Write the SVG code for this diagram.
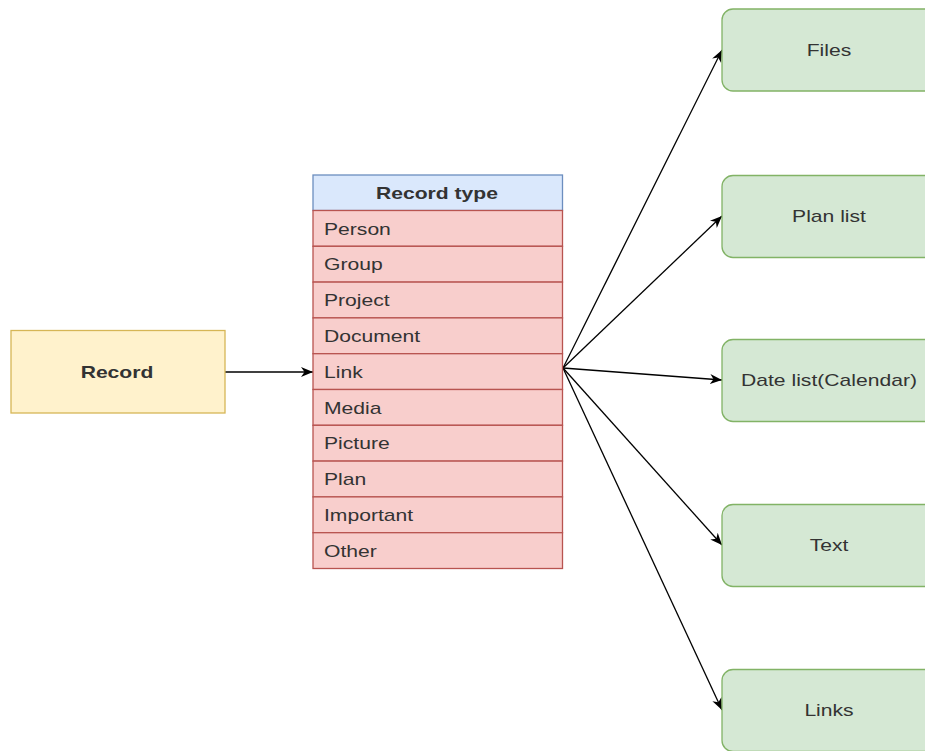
<svg xmlns="http://www.w3.org/2000/svg" width="925" height="751" viewBox="0 0 925 751">
<defs>
<marker id="arr" markerWidth="13" markerHeight="11" refX="12" refY="5.5" orient="auto" markerUnits="userSpaceOnUse">
<path d="M0,0.5 L12,5.5 L0,10.5 L3.5,5.5 Z" fill="#000"/>
</marker>
</defs>
<style>
.t{font-family:"Liberation Sans",Arial,sans-serif;font-size:16px;fill:#333}
.b{font-weight:bold}
.row{fill:#f8cecc;stroke:#b85450;stroke-width:1.3}
.grn{fill:#d5e8d4;stroke:#82b366;stroke-width:1.3}
.con{stroke:#000;stroke-width:1.3;fill:none;marker-end:url(#arr)}
</style>
<rect width="925" height="751" fill="#fff"/>
<g id="connectors">
<line class="con" x1="225" y1="372" x2="313" y2="372"/>
<line class="con" x1="563" y1="368" x2="722" y2="50"/>
<line class="con" x1="563" y1="368" x2="722" y2="216"/>
<line class="con" x1="563" y1="368" x2="722" y2="380"/>
<line class="con" x1="563" y1="368" x2="722" y2="545"/>
<line class="con" x1="563" y1="368" x2="722" y2="710"/>
</g>
<g id="record">
<rect x="11" y="330.5" width="214" height="82.5" fill="#fff2cc" stroke="#d6b656" stroke-width="1.3"/>
<text class="t b" text-anchor="middle" transform="translate(117,378) scale(1.32,1)">Record</text>
</g>
<g id="record-type">
<rect x="313" y="175" width="249.5" height="35.5" fill="#dae8fc" stroke="#6c8ebf" stroke-width="1.3"/>
<text class="t b" text-anchor="middle" transform="translate(437,199) scale(1.32,1)">Record type</text>
<rect class="row" x="313" y="210.5" width="249.5" height="35.8"/>
<text class="t" transform="translate(324,234.5) scale(1.32,1)">Person</text>
<rect class="row" x="313" y="246.3" width="249.5" height="35.8"/>
<text class="t" transform="translate(324,270.3) scale(1.32,1)">Group</text>
<rect class="row" x="313" y="282.1" width="249.5" height="35.8"/>
<text class="t" transform="translate(324,306.1) scale(1.32,1)">Project</text>
<rect class="row" x="313" y="317.9" width="249.5" height="35.8"/>
<text class="t" transform="translate(324,341.9) scale(1.32,1)">Document</text>
<rect class="row" x="313" y="353.7" width="249.5" height="35.8"/>
<text class="t" transform="translate(324,377.7) scale(1.32,1)">Link</text>
<rect class="row" x="313" y="389.5" width="249.5" height="35.8"/>
<text class="t" transform="translate(324,413.5) scale(1.32,1)">Media</text>
<rect class="row" x="313" y="425.3" width="249.5" height="35.8"/>
<text class="t" transform="translate(324,449.3) scale(1.32,1)">Picture</text>
<rect class="row" x="313" y="461.1" width="249.5" height="35.8"/>
<text class="t" transform="translate(324,485.1) scale(1.32,1)">Plan</text>
<rect class="row" x="313" y="496.9" width="249.5" height="35.8"/>
<text class="t" transform="translate(324,520.9) scale(1.32,1)">Important</text>
<rect class="row" x="313" y="532.7" width="249.5" height="35.8"/>
<text class="t" transform="translate(324,556.7) scale(1.32,1)">Other</text>
</g>
<g id="files">
<rect class="grn" x="722" y="9" width="214" height="82" rx="11" ry="11"/>
<text class="t" text-anchor="middle" transform="translate(829,56) scale(1.32,1)">Files</text>
</g>
<g id="plan-list">
<rect class="grn" x="722" y="175.5" width="214" height="82" rx="11" ry="11"/>
<text class="t" text-anchor="middle" transform="translate(829,222) scale(1.32,1)">Plan list</text>
</g>
<g id="date-list">
<rect class="grn" x="722" y="339.5" width="214" height="82" rx="11" ry="11"/>
<text class="t" text-anchor="middle" transform="translate(829,386) scale(1.32,1)">Date list(Calendar)</text>
</g>
<g id="text">
<rect class="grn" x="722" y="504.5" width="214" height="82" rx="11" ry="11"/>
<text class="t" text-anchor="middle" transform="translate(829,551) scale(1.32,1)">Text</text>
</g>
<g id="links">
<rect class="grn" x="722" y="669.5" width="214" height="82" rx="11" ry="11"/>
<text class="t" text-anchor="middle" transform="translate(829,716) scale(1.32,1)">Links</text>
</g>
</svg>
